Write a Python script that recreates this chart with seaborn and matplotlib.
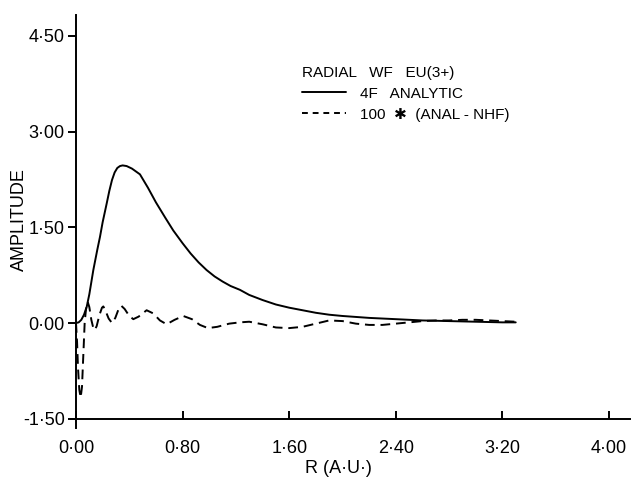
import matplotlib
matplotlib.use("Agg")
import matplotlib.pyplot as plt
import seaborn as sns
import pandas as pd
from matplotlib.lines import Line2D

# ---- data ----
r_solid = [0.00, 0.02, 0.04, 0.06, 0.08, 0.10, 0.13, 0.16, 0.18, 0.20, 0.23, 0.25, 0.27,
           0.29, 0.31, 0.33, 0.35, 0.38, 0.42, 0.48, 0.54, 0.60, 0.67, 0.73, 0.80, 0.86,
           0.92, 0.98, 1.04, 1.10, 1.16, 1.23, 1.30, 1.40, 1.50, 1.60, 1.70, 1.80, 1.90,
           2.00, 2.20, 2.40, 2.60, 2.80, 3.00, 3.20, 3.30]
amp_solid = [0.00, 0.01, 0.05, 0.13, 0.25, 0.45, 0.83, 1.15, 1.35, 1.58, 1.87, 2.07, 2.24,
             2.36, 2.43, 2.46, 2.47, 2.46, 2.42, 2.33, 2.12, 1.89, 1.65, 1.45, 1.25, 1.09,
             0.95, 0.83, 0.73, 0.65, 0.58, 0.52, 0.44, 0.36, 0.29, 0.24, 0.20, 0.16, 0.13,
             0.11, 0.08, 0.06, 0.04, 0.03, 0.02, 0.01, 0.01]

r_dash = [0.000, 0.008, 0.015, 0.025, 0.035, 0.045, 0.055, 0.065, 0.075, 0.088, 0.100,
          0.115, 0.130, 0.140, 0.155, 0.175, 0.195, 0.205, 0.220, 0.245, 0.270, 0.295,
          0.320, 0.340, 0.365, 0.400, 0.430, 0.470, 0.530, 0.580, 0.630, 0.680, 0.740,
          0.805, 0.870, 0.930, 0.990, 1.060, 1.150, 1.230, 1.300, 1.400, 1.500, 1.600,
          1.700, 1.800, 1.900, 2.000, 2.100, 2.200, 2.300, 2.400, 2.500, 2.600, 2.700,
          2.800, 2.900, 3.000, 3.100, 3.200, 3.300]
amp_dash = [0.00, -0.30, -0.70, -1.05, -1.17, -1.00, -0.50, 0.00, 0.22, 0.33, 0.25,
            0.05, -0.08, -0.11, -0.05, 0.12, 0.24, 0.26, 0.20, 0.07, 0.00, 0.08,
            0.22, 0.27, 0.22, 0.11, 0.06, 0.10, 0.20, 0.15, 0.04, -0.02, 0.05,
            0.11, 0.06, -0.03, -0.08, -0.06, -0.01, 0.01, 0.02, -0.02, -0.07, -0.08,
            -0.06, -0.01, 0.04, 0.03, -0.01, -0.03, -0.03, -0.01, 0.01, 0.03, 0.04,
            0.04, 0.05, 0.05, 0.04, 0.03, 0.02]

x_ticks = [0.0, 0.8, 1.6, 2.4, 3.2, 4.0]
x_tick_labels = ["0·00", "0·80", "1·60", "2·40", "3·20", "4·00"]
y_ticks = [-1.5, 0.0, 1.5, 3.0, 4.5]
y_tick_labels = ["-1·50", "0·00", "1·50", "3·00", "4·50"]

legend_title = "RADIAL   WF   EU(3+)"
label_solid = "4F   ANALYTIC"
label_dash = "100  ✱  (ANAL - NHF)"

# ---- plotting ----
sns.set_theme(style="ticks")
plt.rcParams["font.family"] = ["Liberation Sans", "DejaVu Sans"]
plt.rcParams["axes.edgecolor"] = "black"
plt.rcParams["text.color"] = "black"
plt.rcParams["axes.labelcolor"] = "black"

W, H = 631, 490
fig = plt.figure(figsize=(W / 100, H / 100), dpi=100)
fig.patch.set_facecolor("white")

# axes placement (pixels)
x0_px, px_per_x = 76.0, 133.25
y0_px, px_per_y = 323.0, 63.8
xlim = (-0.04, 4.16)
ylim = (-1.65, 4.83)
left_px = x0_px + xlim[0] * px_per_x
right_px = x0_px + xlim[1] * px_per_x
top_px = y0_px - ylim[1] * px_per_y
bot_px = y0_px - ylim[0] * px_per_y
ax = fig.add_axes([left_px / W, 1 - bot_px / H, (right_px - left_px) / W, (bot_px - top_px) / H])
ax.set_facecolor("white")

df_solid = pd.DataFrame({"r": r_solid, "amp": amp_solid})
df_dash = pd.DataFrame({"r": r_dash, "amp": amp_dash})
sns.lineplot(data=df_solid, x="r", y="amp", ax=ax, color="black", lw=1.4, sort=False)
sns.lineplot(data=df_dash, x="r", y="amp", ax=ax, color="black", lw=1.4, sort=False,
             dashes=False, linestyle=(0, (5, 3)))

ax.set_xlim(*xlim)
ax.set_ylim(*ylim)
ax.spines["left"].set_position(("data", 0.0))
ax.spines["bottom"].set_position(("data", -1.5))
ax.spines["right"].set_visible(False)
ax.spines["top"].set_visible(False)
for s in ("left", "bottom"):
    ax.spines[s].set_linewidth(1.4)
    ax.spines[s].set_color("black")

ax.set_xticks(x_ticks)
ax.set_xticklabels(x_tick_labels)
ax.set_yticks(y_ticks)
ax.set_yticklabels(y_tick_labels)
ax.tick_params(axis="x", direction="in", length=6, width=1.4, pad=15, labelsize=13, colors="black")
ax.tick_params(axis="y", direction="out", length=6, width=1.4, pad=2, labelsize=13, colors="black")

ax.set_xlabel("R (A·U·)", fontsize=13)
ax.set_ylabel("AMPLITUDE", fontsize=13)
ax.xaxis.set_label_coords((338 - left_px) / (right_px - left_px), (bot_px - 468) / (bot_px - top_px))
ax.yaxis.set_label_coords((19 - left_px) / (right_px - left_px), (bot_px - 220) / (bot_px - top_px))
ax.xaxis.label.set_va("center")
ax.yaxis.label.set_va("center")

handles = [Line2D([], [], color="black", lw=1.4),
           Line2D([], [], color="black", lw=1.4, linestyle=(0, (3, 2.5)))]
leg = ax.legend(handles, [label_solid, label_dash], title=legend_title,
                loc="upper left", bbox_to_anchor=(301 / W, 1 - 65 / H),
                bbox_transform=fig.transFigure, frameon=False, fontsize=11,
                title_fontsize=11, alignment="left", handlelength=2.9,
                handletextpad=0.9, labelspacing=0.46, borderpad=0.05,
                borderaxespad=0.0)

fig.savefig("out.png", dpi=100, facecolor="white")
